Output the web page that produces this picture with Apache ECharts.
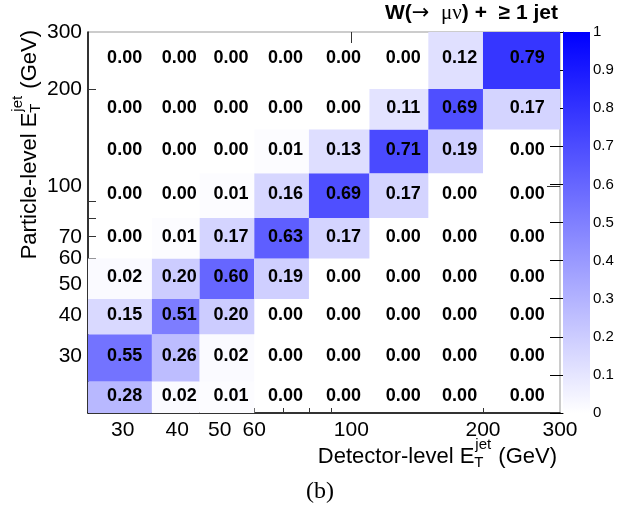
<!DOCTYPE html>
<html><head><meta charset="utf-8">
<script src="https://cdn.jsdelivr.net/npm/echarts@6/dist/echarts.min.js"></script>
<style>html,body{margin:0;padding:0;background:#fff}#c{width:639px;height:509px}</style>
</head><body><div id="c"></div>
<script>
// Bin edges (GeV)
const xEdges = [25, 35, 45, 60, 80, 110, 150, 200, 300];       // detector-level
const yEdges = [20, 25, 35, 45, 60, 80, 110, 150, 200, 300];   // particle-level
// Matrix rows, bottom (20-25) to top (200-300), each row left to right
const row0 = [0.28, 0.02, 0.01, 0.00, 0.00, 0.00, 0.00, 0.00];
const row1 = [0.55, 0.26, 0.02, 0.00, 0.00, 0.00, 0.00, 0.00];
const row2 = [0.15, 0.51, 0.20, 0.00, 0.00, 0.00, 0.00, 0.00];
const row3 = [0.02, 0.20, 0.60, 0.19, 0.00, 0.00, 0.00, 0.00];
const row4 = [0.00, 0.01, 0.17, 0.63, 0.17, 0.00, 0.00, 0.00];
const row5 = [0.00, 0.00, 0.01, 0.16, 0.69, 0.17, 0.00, 0.00];
const row6 = [0.00, 0.00, 0.00, 0.01, 0.13, 0.71, 0.19, 0.00];
const row7 = [0.00, 0.00, 0.00, 0.00, 0.00, 0.11, 0.69, 0.17];
const row8 = [0.00, 0.00, 0.00, 0.00, 0.00, 0.00, 0.12, 0.79];
const rows = [row0, row1, row2, row3, row4, row5, row6, row7, row8];
// Tick labels
const xLabels = [30, 40, 50, 60, 100, 200, 300];
const xMinorTicks = [30, 40, 50, 60, 70, 80, 90, 200];
const xMajorTicks = [100];
const yLabels = [30, 40, 50, 60, 70, 100, 200, 300];
const yMinorTicks = [30, 40, 50, 60, 70, 80, 90, 200];
const yMajorTicks = [100];
const zLabels = [0, 0.1, 0.2, 0.3, 0.4, 0.5, 0.6, 0.7, 0.8, 0.9, 1];

const data = [];
rows.forEach((r, j) => r.forEach((v, i) => {
  data.push([xEdges[i], xEdges[i + 1], yEdges[j], yEdges[j + 1], v]);
}));

const SANS = '"Liberation Sans", Arial, Helvetica, sans-serif';
const SERIF = '"Liberation Serif", "DejaVu Serif", serif';
const mctx = document.createElement('canvas').getContext('2d');
function tw(t, f) { mctx.font = f; return mctx.measureText(t).width; }

const mainF = '22px ' + SANS, scrF = '15px ' + SANS;
function axisTitle(pre) {
  const w1 = tw(pre + 'E', mainF), ws = Math.max(tw('jet', scrF), tw('T', scrF)) + 2, w3 = tw(' (GeV)', mainF);
  const s = -(w1 + ws + w3);
  return [
    { type: 'text', x: s, y: 0, style: { text: pre + 'E', font: mainF, fill: '#000', align: 'left', verticalAlign: 'middle' } },
    { type: 'text', x: s + w1 + 1, y: -12, style: { text: 'jet', font: scrF, fill: '#000', align: 'left', verticalAlign: 'middle' } },
    { type: 'text', x: s + w1, y: 6, style: { text: 'T', font: scrF, fill: '#000', align: 'left', verticalAlign: 'middle' } },
    { type: 'text', x: s + w1 + ws, y: 0, style: { text: ' (GeV)', font: mainF, fill: '#000', align: 'left', verticalAlign: 'middle' } }
  ];
}

const logX = (extra) => Object.assign({ type: 'log', logBase: 10, min: 25, max: 300, gridIndex: 0,
  splitLine: { show: false }, axisLine: { show: false }, axisLabel: { show: false }, axisTick: { show: false } }, extra);
const logY = (extra) => Object.assign({ type: 'log', logBase: 10, min: 20, max: 300, gridIndex: 0,
  splitLine: { show: false }, axisLine: { show: false }, axisLabel: { show: false }, axisTick: { show: false } }, extra);

const chart = echarts.init(document.getElementById('c'), null, { renderer: 'canvas' });
chart.setOption({
  backgroundColor: '#fff',
  animation: false,
  grid: [
    { left: 88, top: 32, width: 472, height: 381, show: true, borderColor: '#999', borderWidth: 1, backgroundColor: 'transparent', containLabel: false, outerBoundsMode: 'none' },
    { left: 563, top: 32, width: 27, height: 381, containLabel: false, outerBoundsMode: 'none' }
  ],
  xAxis: [
    logX({ axisLine: { show: true, lineStyle: { color: '#000', width: 1.5 } },
      axisLabel: { show: true, customValues: xLabels, fontSize: 21, fontFamily: SANS, color: '#000', margin: 7 },
      axisTick: { show: true, customValues: xMinorTicks, inside: true, length: 5, lineStyle: { color: '#333', width: 1 } } }),
    logX({ axisTick: { show: true, customValues: xMajorTicks, inside: true, length: 11, lineStyle: { color: '#333', width: 1 } } }),
    { type: 'value', gridIndex: 1, min: 0, max: 1, show: false }
  ],
  yAxis: [
    logY({ axisLine: { show: true, lineStyle: { color: '#000', width: 1.5 } },
      axisLabel: { show: true, customValues: yLabels, fontSize: 21, fontFamily: SANS, color: '#000', margin: 6 },
      axisTick: { show: true, customValues: yMinorTicks, inside: true, length: 8, lineStyle: { color: '#333', width: 1 } } }),
    logY({ axisTick: { show: true, customValues: yMajorTicks, inside: true, length: 13, lineStyle: { color: '#333', width: 1 } } }),
    { type: 'value', gridIndex: 1, min: 0, max: 1, interval: 0.1, position: 'right',
      splitLine: { show: false },
      axisLine: { show: true, lineStyle: { color: '#000', width: 1 } },
      axisTick: { show: true, inside: true, length: 13, lineStyle: { color: '#000', width: 1 } },
      axisLabel: { show: true, fontSize: 15, fontFamily: SANS, color: '#000', margin: 3,
        formatter: v => (zLabels.includes(+v.toFixed(1)) ? (v === 0 ? '0' : v === 1 ? '1' : v.toFixed(1)) : '') } }
  ],
  visualMap: { show: false, type: 'continuous', min: 0, max: 1, dimension: 4, seriesIndex: 0,
    inRange: { color: ['#ffffff', '#0000ff'] } },
  series: [
    { type: 'custom', xAxisIndex: 0, yAxisIndex: 0, data: data, encode: { x: [0, 1], y: [2, 3] },
      renderItem: function (params, api) {
        const x0 = api.value(0), x1 = api.value(1), y0 = api.value(2), y1 = api.value(3), v = api.value(4);
        const a = api.coord([x0, y0]), b = api.coord([x1, y1]), c = api.coord([(x0 + x1) / 2, (y0 + y1) / 2]);
        return { type: 'group', children: [
          { type: 'rect', shape: { x: a[0], y: b[1], width: b[0] - a[0], height: a[1] - b[1] },
            style: { fill: v > 0 ? api.visual('color') : 'rgba(0,0,0,0)' } },
          { type: 'text', x: c[0] + 2, y: c[1], z2: 10,
            style: { text: v.toFixed(2), font: 'bold 18px ' + SANS, fill: '#000', align: 'center', verticalAlign: 'middle' } }
        ] };
      } },
    { type: 'custom', xAxisIndex: 2, yAxisIndex: 2, data: [[0, 0]],
      renderItem: function (params, api) {
        const a = api.coord([0, 0]), b = api.coord([1, 1]);
        return { type: 'rect', shape: { x: a[0], y: b[1], width: b[0] - a[0], height: a[1] - b[1] },
          style: { fill: new echarts.graphic.LinearGradient(0, 0, 0, 1, [{ offset: 0, color: '#0000ff' }, { offset: 1, color: '#ffffff' }]) } };
      } }
  ],
  graphic: [
    { type: 'text', right: 639 - 558, top: 3, style: {
        text: '{a|W(}{r|→}{s|  }{g|μν}{a|) +  ≥ 1 jet}',
        rich: { a: { font: 'bold 21px ' + SANS, fill: '#000' }, r: { font: '21px "DejaVu Sans"', fill: '#000' },
          s: { font: '21px ' + SANS }, g: { font: '21px ' + SERIF, fill: '#000' } } } },
    { type: 'group', x: 557, y: 457, children: axisTitle('Detector-level ') },
    { type: 'group', x: 30, y: 30, rotation: Math.PI / 2, children: axisTitle('Particle-level ') },
    { type: 'text', x: 320, y: 492, style: { text: '(b)', font: '24px ' + SERIF, fill: '#000', align: 'center', verticalAlign: 'middle' } }
  ]
});
</script></body></html>
